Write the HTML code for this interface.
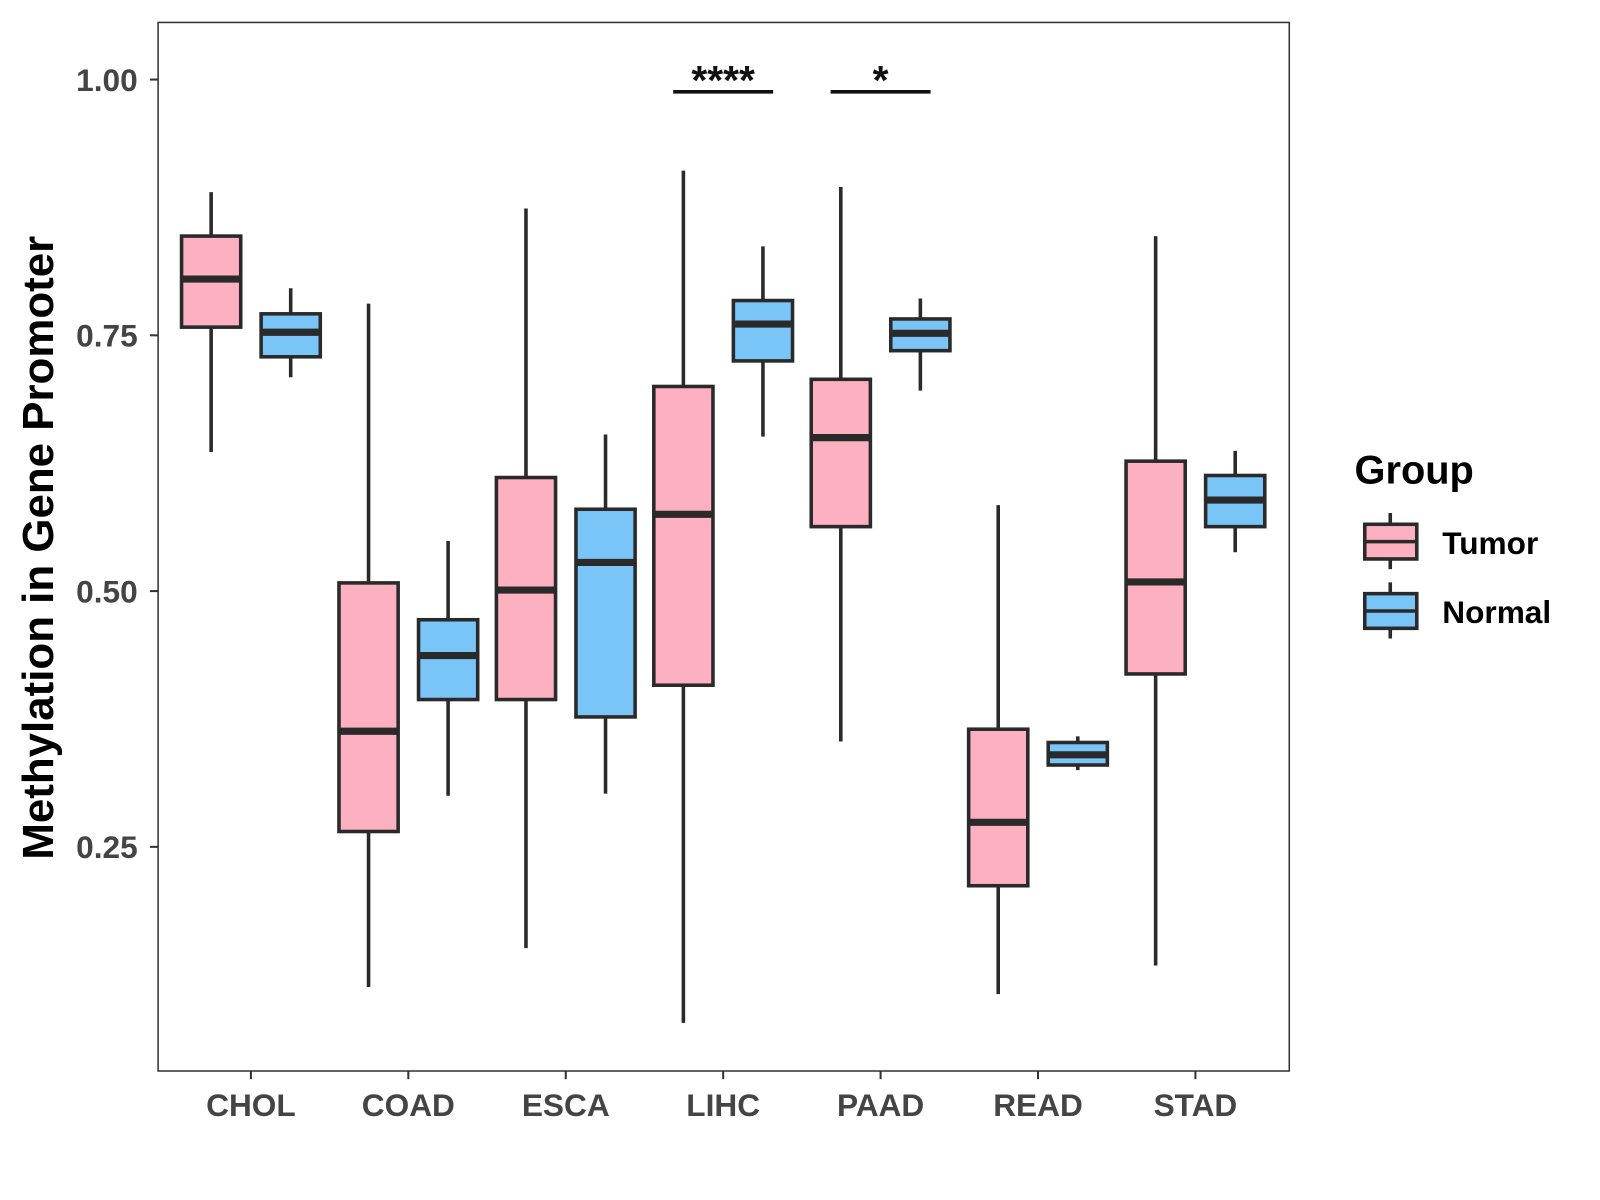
<!DOCTYPE html>
<html><head><meta charset="utf-8"><style>
html,body{margin:0;padding:0;background:#fff;}
svg{display:block;font-family:"Liberation Sans",Arial,sans-serif;}
</style></head><body>
<svg id="chart" width="1600" height="1200" viewBox="0 0 1600 1200">
<rect width="1600" height="1200" fill="#fff"/>
<g transform="scale(1.02)">
<g id="plot"></g>
<text x="52" y="537" transform="rotate(-90 52 537)" text-anchor="middle" font-size="43" font-weight="bold" fill="#000">Methylation in Gene Promoter</text>
<g>
<text x="1328" y="474" font-size="39" font-weight="bold" fill="#000">Group</text>
<g>
<line x1="1363" x2="1363" y1="503" y2="558" stroke="#2a2a2a" stroke-width="3.5"/>
<rect x="1338" y="514" width="51" height="34" fill="#FDB0C0" stroke="#2a2a2a" stroke-width="3.5"/>
<line x1="1338" x2="1389" y1="531" y2="531" stroke="#2a2a2a" stroke-width="3.5"/>
<text x="1414" y="543" font-size="31" font-weight="bold" fill="#000">Tumor</text>
</g>
<g>
<line x1="1363" x2="1363" y1="571" y2="626" stroke="#2a2a2a" stroke-width="3.5"/>
<rect x="1338" y="582" width="51" height="34" fill="#7AC5F8" stroke="#2a2a2a" stroke-width="3.5"/>
<line x1="1338" x2="1389" y1="599" y2="599" stroke="#2a2a2a" stroke-width="3.5"/>
<text x="1414" y="611" font-size="31" font-weight="bold" fill="#000">Normal</text>
</g>
</g>
</g>
</svg>
<script>
const categories=["CHOL","COAD","ESCA","LIHC","PAAD","READ","STAD"];
const groups=["Tumor","Normal"];
const tumorStats=[[0.636,0.758,0.805,0.847,0.890],[0.113,0.265,0.363,0.508,0.781],[0.151,0.394,0.501,0.611,0.874],[0.078,0.408,0.575,0.700,0.911],[0.353,0.563,0.650,0.707,0.895],[0.106,0.212,0.274,0.365,0.584],[0.134,0.419,0.509,0.627,0.847]];
const normalStats=[[0.709,0.729,0.753,0.771,0.796],[0.300,0.394,0.437,0.472,0.549],[0.302,0.377,0.528,0.580,0.653],[0.651,0.725,0.761,0.784,0.837],[0.696,0.735,0.752,0.766,0.786],[0.325,0.330,0.340,0.352,0.358],[0.538,0.563,0.589,0.613,0.637]];
const yTicks=[0.25,0.50,0.75,1.00];
const yTickLabels=["0.25","0.50","0.75","1.00"];
const sigCats=["LIHC","PAAD"];
const sigLabels=["****","*"];
const sigLevel=[0.988];

const NS="http://www.w3.org/2000/svg";
const g=document.getElementById('plot');
const L=155,R=1264,T=22,B=1050;
const y=v=>78+(1-v)*1003;
const x=i=>246+i*154.33;
const colors={Tumor:"#FDB0C0",Normal:"#7AC5F8"};
function el(t,a,p){const e=document.createElementNS(NS,t);for(const k in a)e.setAttribute(k,a[k]);(p||g).appendChild(e);return e;}
const frame=el('rect',{x:L,y:T,width:R-L,height:B-T,fill:'none',stroke:'#333','stroke-width':1.5});


yTicks.forEach((v,i)=>{
 const tk=el('line',{x1:L-8,x2:L,y1:y(v),y2:y(v),stroke:'#333','stroke-width':2});
 
 
 const t=el('text',{x:L-20,y:y(v)+11,'text-anchor':'end','font-size':31,'font-weight':'bold',fill:'#444'});
 t.textContent=yTickLabels[i];
 
 
});
categories.forEach((c,i)=>{
 const tk=el('line',{x1:x(i),x2:x(i),y1:B,y2:B+8,stroke:'#333','stroke-width':2});
 
 
 const t=el('text',{x:x(i),y:B+44,'text-anchor':'middle','font-size':31,'font-weight':'bold',fill:'#444'});
 t.textContent=c;
 
 
 [[tumorStats[i],-39,'Tumor'],[normalStats[i],39,'Normal']].forEach(([s,off,grp])=>{
  const cx=x(i)+off,w=58;
  const bg=el('g',{});
  
  
  el('line',{x1:cx,x2:cx,y1:y(s[0]),y2:y(s[4]),stroke:'#2a2a2a','stroke-width':3.5},bg);
  el('rect',{x:cx-w/2,y:y(s[3]),width:w,height:y(s[1])-y(s[3]),fill:colors[grp],stroke:'#2a2a2a','stroke-width':3.5},bg);
  el('line',{x1:cx-w/2,x2:cx+w/2,y1:y(s[2]),y2:y(s[2]),stroke:'#2a2a2a','stroke-width':7},bg);
 });
});
sigCats.forEach((c,k)=>{
 const i=categories.indexOf(c);
 const ln=el('line',{x1:x(i)-49,x2:x(i)+49,y1:y(sigLevel[0]),y2:y(sigLevel[0]),stroke:'#111','stroke-width':3.5});
 
 
 const t=el('text',{x:x(i),y:y(sigLevel[0])+2,'text-anchor':'middle','font-size':40,'font-weight':'bold',fill:'#111'});
 t.textContent=sigLabels[k];
 
 
});
</script>
</body></html>
